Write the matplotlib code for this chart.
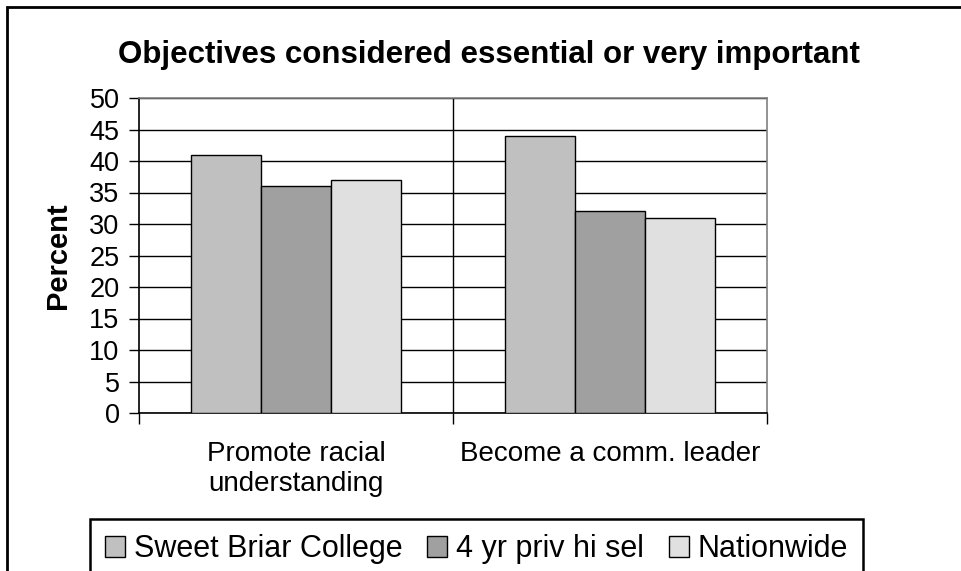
import matplotlib
matplotlib.use("Agg")
import matplotlib.pyplot as plt
from matplotlib.patches import Rectangle
from matplotlib.transforms import blended_transform_factory
import numpy as np

plt.rcParams['font.family'] = ['Liberation Sans', 'DejaVu Sans']

categories = ["Promote racial\nunderstanding", "Become a comm. leader"]
series_names = ["Sweet Briar College", "4 yr priv hi sel", "Nationwide"]
sweet_briar = [41, 44]
priv_hi_sel = [36, 32]
nationwide = [37, 31]
colors = ["#C0C0C0", "#A0A0A0", "#E0E0E0"]

W, H = 962, 571
fig = plt.figure(figsize=(W / 100, H / 100), dpi=100)

# outer chart border (only top/left visible in the crop)
fig.patches.append(Rectangle((7 / W, -0.2), 2.0, 1.2 - 7 / H, transform=fig.transFigure,
                             fill=False, edgecolor="black", lw=2))

ax = fig.add_axes([139 / W, 1 - 413 / H, (767 - 139) / W, (413 - 98) / H])

x = np.arange(len(categories))
bw = 0.222
for i, (vals, name) in enumerate(zip([sweet_briar, priv_hi_sel, nationwide], series_names)):
    ax.bar(x + (i - 1) * bw, vals, width=bw, color=colors[i], edgecolor="black",
           lw=1.0, label=name, zorder=3)

ax.set_xlim(-0.5, len(categories) - 0.5)
ax.set_ylim(0, 50)
ax.set_yticks(np.arange(0, 51, 5))
ax.yaxis.grid(True, color="black", lw=1.0, zorder=0)
ax.set_axisbelow(True)
for xb in np.arange(0.5, len(categories) - 0.5, 1):
    ax.axvline(xb, color="black", lw=1.0, zorder=1)

ax.set_xticks(np.arange(-0.5, len(categories), 1))
ax.set_xticklabels([])
ax.tick_params(axis="y", direction="out", length=7, width=1, color="black",
               labelsize=19.5, pad=7)
ax.tick_params(axis="x", direction="out", length=8, width=1, color="black")
for s in ["left", "bottom"]:
    ax.spines[s].set_color("black")
    ax.spines[s].set_linewidth(1.2)
for s in ["top", "right"]:
    ax.spines[s].set_color("#808080")
    ax.spines[s].set_linewidth(1.2)

tr = blended_transform_factory(ax.transData, fig.transFigure)
for xi, lab in zip(x, categories):
    ax.text(xi, 1 - 441 / H, lab, transform=tr, ha="center", va="top",
            fontsize=20, linespacing=1.22)

fig.text(58 / W, 1 - 256 / H, "Percent", rotation=90, ha="center", va="center",
         fontsize=21, fontweight="bold")
fig.text(489 / W, 1 - 63 / H, "Objectives considered essential or very important",
         ha="center", va="baseline", fontsize=22.5, fontweight="bold")

leg = fig.legend(loc="upper left", bbox_to_anchor=(90 / W, 1 - 519 / H), ncol=3,
                 fontsize=22, frameon=True, fancybox=False, edgecolor="black",
                 framealpha=1, handlelength=0.65, handleheight=0.65, handletextpad=0.3,
                 columnspacing=0.8, borderpad=0.5, borderaxespad=0)
leg.get_frame().set_linewidth(1.8)

fig.savefig("out.png", dpi=100)
